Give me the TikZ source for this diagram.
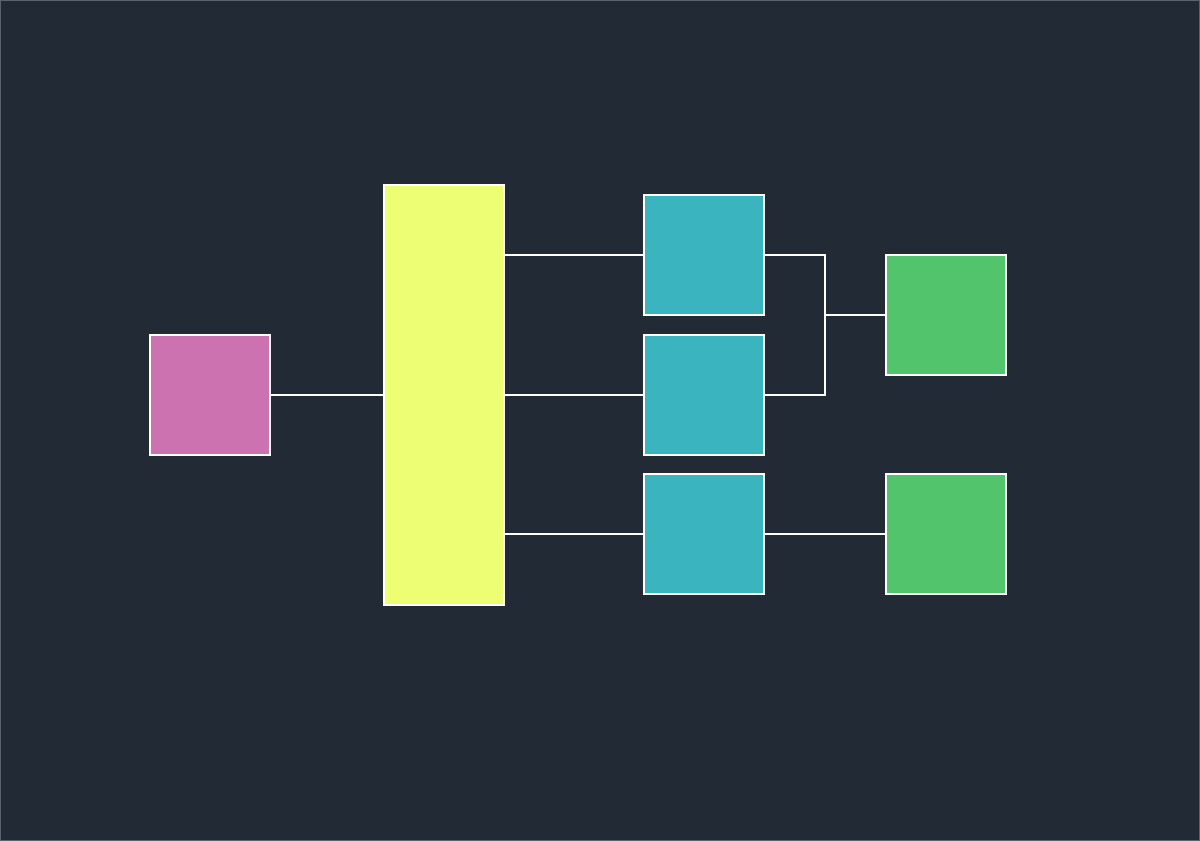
\documentclass[tikz,border=0pt]{standalone}
\usetikzlibrary{positioning}
\definecolor{bgdark}{HTML}{222A36}
\definecolor{framegray}{HTML}{5A6270}
\definecolor{pinkbox}{HTML}{CC72B0}
\definecolor{yellowbox}{HTML}{EEFE74}
\definecolor{tealbox}{HTML}{3AB4BF}
\definecolor{greenbox}{HTML}{52C46B}
\tikzset{
  blk/.style={draw=white,line width=1.2pt,minimum width=2.4cm,minimum height=2.4cm,inner sep=0pt},
  wire/.style={draw=white,line width=1.2pt,line join=miter}
}
\begin{document}
\begin{tikzpicture}[line cap=butt,x=0.02cm,y=-0.02cm]
		\useasboundingbox (0,0) rectangle (1200,841);
		\fill [bgdark] (0,0) rectangle (1200,841);
		\draw [framegray,line width=0.6pt] (0.8,0.8) rectangle (1199.2,840.2);
		% boxes
		\node [blk,fill=pinkbox] (src) at (210,395) {};
		\node [blk,fill=yellowbox,minimum height=8.4cm] (hub) at (444,395) {};
		\node [blk,fill=tealbox] (t1) at (704,255) {};
		\node [blk,fill=tealbox] (t2) at (704,395) {};
		\node [blk,fill=tealbox] (t3) at (704,534) {};
		\node [blk,fill=greenbox] (g1) at (946,315) {};
		\node [blk,fill=greenbox] (g2) at (946,534) {};
		\coordinate (join) at (825,315);
		% links
		\draw [wire] (src.east) -- (hub.west |- src.east);
		\draw [wire] (hub.east |- t1.west) -- (t1.west);
		\draw [wire] (hub.east |- t2.west) -- (t2.west);
		\draw [wire] (hub.east |- t3.west) -- (t3.west);
		\draw [wire] (t1.east) -| (join) |- (t2.east);
		\draw [wire] (join) -- (g1.west);
		\draw [wire] (t3.east) -- (g2.west);
	\end{tikzpicture}
\end{document}
